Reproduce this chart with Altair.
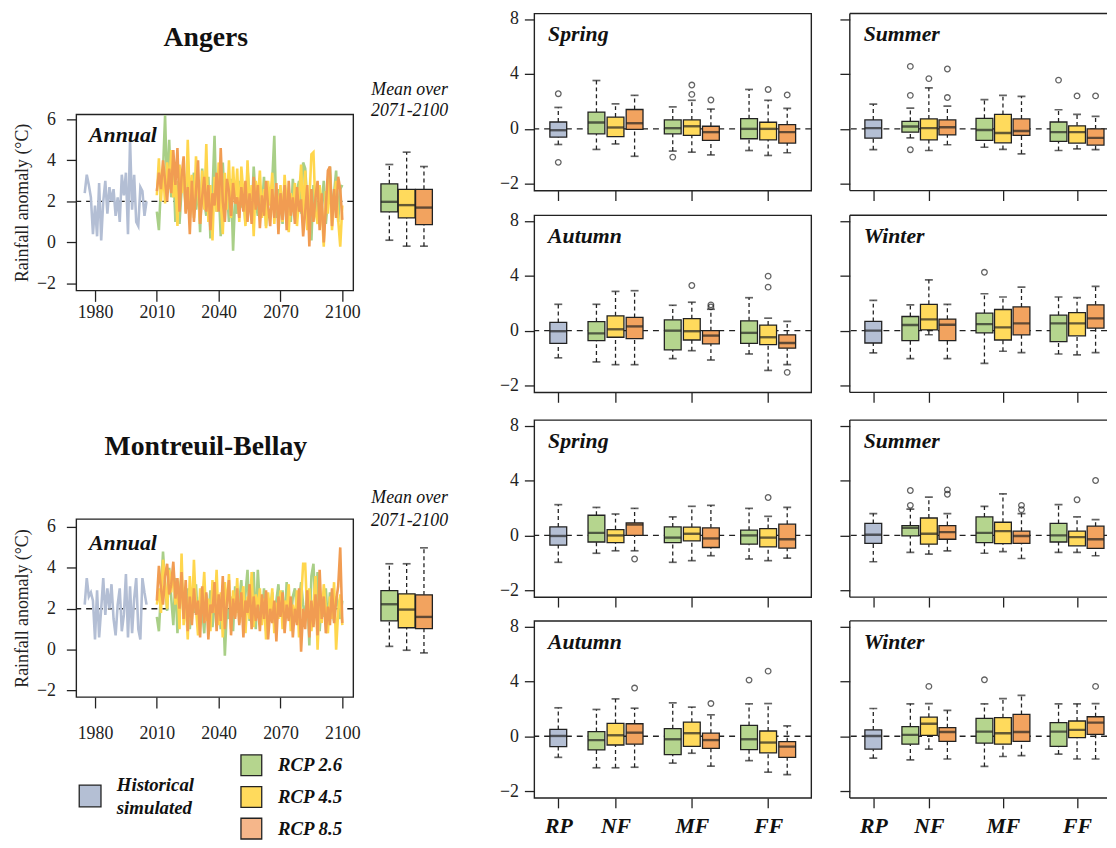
import altair as alt
import pandas as pd

FONT = "Liberation Serif"
INK = "#222222"

SCENARIOS = ["Historical simulated", "RCP 2.6", "RCP 4.5", "RCP 8.5"]
BOX_FILL = ["#B4BFD4", "#B5D58E", "#FFDA5C", "#F2A35F"]
LINE_COL = ["#B3BED4", "#A9CF87", "#FFD64D", "#F19C52"]
LEGEND_FILL = ["#B4BFD4", "#B5D58E", "#FFDA5C", "#F5B68A"]
PERIODS = ["RP", "NF", "MF", "FF"]
SEASONS = ["Spring", "Summer", "Autumn", "Winter"]
SITES = ["Angers", "Montreuil-Bellay"]
YEAR_TICKS = [1980, 2010, 2040, 2070, 2100]

HIST_YEARS = list(range(1975, 2006))
RCP_YEARS = list(range(2010, 2101))

# ---------------- annual series ----------------
ANG_HIST = [2.4, 3.3, 2.8, 2.2, 0.4, 1.8, 0.3, 2.9, 0.1, 2.0, 3.0, 1.4, 2.7, 2.0, 2.6, 1.3,
            2.2, 1.0, 3.3, 2.3, 3.4, 0.4, 5.0, 1.6, 3.3, 1.0, 0.8, 2.7, 2.5, 1.3, 2.0]
ANG_26 = [1.5, 0.6, 2.8, 3.5, 6.2, 2.5, 5.0, 2.2, 3.8, 1.0,
          3.0, 0.9, 2.6, 3.2, 1.8, 4.0, 1.2, 2.5, 3.4, 1.6,
          2.9, 0.5, 3.6, 2.0, 1.3, 3.2, 0.2, 2.4, 5.2, 1.5,
          2.7, 0.3, 3.9, 1.8, 2.6, 1.0, 3.1, -0.4, 2.2, 1.4,
          3.0, 1.7, 2.4, 0.9, 3.6, 2.2, 1.1, 3.7, 2.0, 1.3,
          2.8, 1.6, 3.2, 0.8, 2.5, 1.9, 3.0, 5.2, 1.2, 2.6,
          2.0, 0.9, 2.9, 1.5, 2.3, 1.0, 3.1, 1.8, 2.5, 3.0,
          1.4, 3.9, 3.6, 2.0, 1.6, 0.1, 2.8, 2.2, 1.2, 2.5,
          1.8, 3.0, 0.9, 2.1, 3.7, 1.5, 2.4, 3.5, 1.0, 2.6, 2.8]
ANG_45 = [2.3, 4.1, 2.0, 3.6, 1.9, 3.9, 2.6, 4.5, 2.2, 3.0,
          0.8, 3.8, 2.4, 3.5, 1.5, 5.0, 2.0, 3.3, 1.2, 4.2,
          2.6, 0.9, 3.5, 1.6, 4.8, 1.0, 2.8, 0.1, 3.2, 1.5,
          3.9, 2.0, 0.4, 3.4, 1.6, 4.0, 1.2, 3.7, 1.9, 3.6,
          1.0, 3.7, 2.4, 0.8, 4.0, 1.6, 2.8, 0.3, 3.0, 2.1,
          3.5, 1.2, 2.6, 0.7, 3.0, 1.8, 3.4, 0.9, 2.6, 1.4,
          2.8, 1.0, 3.3, 1.9, 0.5, 2.4, 1.5, 2.9, 0.8, 2.2,
          3.8, 1.2, 3.5, 0.6, 2.0, 4.3, 4.4, 1.5, 0.9, 2.8,
          1.7, -0.2, 2.5, 1.4, 3.3, 0.6, 2.0, 3.0, 1.1, -0.2, 1.8]
ANG_85 = [2.5, 3.4, 2.6, 4.0, 3.0, 2.0, 3.6, 2.4, 4.5, 2.8,
          4.6, 1.5, 3.2, 4.2, 1.4, 2.7, 0.4, 3.0, 1.0, 2.5,
          4.0, 0.9, 2.2, 3.2, 1.5, 2.8, 0.6, 2.4, 1.8, 3.4,
          1.5, 4.6, 2.0, 1.0, 3.1, 2.5, 1.3, 2.9, 1.9, 2.2,
          1.2, 2.7, 1.5, 3.0, 1.0, 2.4, 0.9, 3.2, 1.6, 2.8,
          0.7, 2.3, 1.3, 3.0, 1.8, 0.8, 2.6, 1.2, 2.9, 0.4,
          2.4, 1.1, 2.8, 0.6, 3.0, 1.3, 2.2, 0.9, 2.7, 1.5,
          2.1, 0.3, 1.5, 2.8, -0.2, 2.6, 1.0, 2.2, 3.0, 0.6,
          2.4, 0.0, 1.7, 3.5, 3.7, 0.8, 2.6, 1.2, 3.2, 2.6, 1.1]

MB_HIST = [2.2, 3.5, 2.6, 2.8, 2.4, 0.5, 2.9, 0.6, 2.0, 3.5, 1.7, 3.0, 2.0, 3.2, 1.5, 0.7,
           2.2, 3.0, 0.9, 1.7, 3.7, 0.6, 3.1, 0.8, 2.5, 3.5, 1.0, 0.5, 3.5, 2.8, 2.2]
MB_26 = [1.6, 0.9, 2.8, 4.8, 3.2, 1.9, 4.0, 2.5, 1.2, 3.5,
         0.8, 2.8, 3.6, 1.5, 2.2, 3.0, 1.0, 2.6, 1.8, 3.2,
         1.3, 2.6, 2.0, 0.8, 2.7, 1.5, 2.9, 1.1, 2.2, 1.6,
         2.4, 1.0, 3.0, -0.3, 2.0, 1.5, 2.6, 0.9, 3.1, 1.8,
         2.3, 3.4, 1.2, 2.7, 3.9, 1.4, 2.2, 3.8, 1.0, 3.9,
         2.1, 1.5, 3.0, 0.9, 2.5, 1.8, 2.8, 1.2, 2.4, 3.2,
         1.6, 2.9, 1.1, 3.3, 2.0, 1.4, 2.6, 3.0, 1.8, 2.4,
         3.3, 2.2, 1.5, 2.9, 0.2, 3.6, 4.2, 1.8, 3.8, 0.9,
         2.5, 1.6, 3.0, 1.2, 2.8, 2.0, 1.4, 2.6, 2.2, 1.5, 2.4]
MB_45 = [2.2, 3.0, 1.8, 4.4, 3.4, 2.0, 3.9, 2.8, 4.0, 2.2,
         3.2, 1.0, 4.7, 1.2, 2.6, 0.5, 3.6, 1.5, 4.4, 2.0,
         0.7, 3.0, 2.2, 3.8, 1.4, 2.5, 0.9, 3.4, 1.8, 3.9,
         1.2, 2.8, 0.6, 3.3, 2.0, 3.7, 1.0, 2.9, 1.6, 3.5,
         1.3, 2.4, 3.1, 0.8, 2.6, 1.5, 3.8, 1.1, 2.7, 2.0,
         3.0, 1.2, 2.5, 0.5, 2.8, 1.6, 3.0, 0.8, 2.3, 1.5,
         2.9, 1.0, 2.4, 1.8, 3.2, 0.9, 2.2, 1.4, 2.9, 0.6,
         2.4, 4.2, 4.2, 1.6, 3.0, 0.9, 2.2, 3.6, 0.0, 2.5,
         1.3, 3.2, 2.0, 0.8, 2.6, 1.5, 3.3, 0.0, 1.9, 2.7, 1.2]
MB_85 = [2.4, 4.1, 3.0, 2.2, 3.6, 4.2, 2.7, 3.2, 4.3, 2.5,
         3.5, 2.0, 3.8, 1.5, 3.4, 0.9, 2.6, 1.2, 3.0, 1.7,
         2.4, 0.6, 3.1, 1.3, 2.8, 0.5, 2.2, 1.8, 3.3, 0.9,
         2.7, 1.4, 3.6, 1.0, 2.3, 3.4, 0.7, 2.5, 1.5, 3.0,
         1.2, 2.8, 0.6, 2.4, 1.8, 3.2, 1.0, 2.6, 1.4, 2.2,
         0.9, 2.7, 1.5, 2.9, 0.5, 2.0, 1.3, 2.4, 0.4, 2.6,
         1.6, 2.8, 0.8, 2.2, 1.4, 2.6, 0.6, 2.0, 1.2, 3.0,
         -0.1, 2.0, 1.0, 2.9, 0.6, 2.4, 1.1, 2.7, 0.7, 3.9,
         1.5, 2.6, 0.8, 2.1, 1.2, 3.0, 1.3, 2.4, 3.1, 5.0, 1.3]

# ---------------- boxplots of 2071-2100 mean: (low, q1, median, q3, high) ----------------
ANG_MEAN = [(0.11, 1.49, 1.98, 2.86, 3.80), (-0.18, 1.20, 1.82, 2.59, 4.40), (-0.18, 0.87, 1.70, 2.59, 3.70)]
MB_MEAN = [(0.16, 1.41, 2.22, 2.89, 4.20), (-0.03, 1.07, 1.96, 2.73, 4.20), (-0.16, 1.03, 1.60, 2.68, 4.98)]

# ---------------- seasonal boxplots: RP, NF(2.6,4.5,8.5), MF(...), FF(...) ----------------
ANG_SPRING = [(-0.57, -0.30, -0.05, 0.50, 1.56), (-0.75, -0.18, 0.46, 1.22, 3.52), (-0.55, -0.28, 0.10, 0.86, 1.82),
              (-1.00, -0.02, 0.41, 1.41, 2.44), (-0.81, -0.18, 0.05, 0.65, 1.60), (-0.85, -0.24, 0.19, 0.65, 2.08),
              (-0.95, -0.42, -0.12, 0.19, 1.44), (-0.79, -0.36, 0.00, 0.74, 2.87), (-0.97, -0.40, 0.00, 0.48, 2.08),
              (-0.87, -0.52, -0.12, 0.31, 1.49)]
ANG_SPRING_OUT = [[2.56, -1.22], [], [], [], [-1.03], [3.19, 2.51], [2.10], [], [2.87], [2.47]]
ANG_SUMMER = [(-0.76, -0.34, 0.05, 0.65, 1.80), (-0.33, -0.12, 0.17, 0.55, 1.51), (-0.79, -0.40, 0.05, 0.72, 2.99),
              (-0.58, -0.22, 0.12, 0.65, 1.65), (-0.67, -0.42, -0.04, 0.77, 2.13), (-0.75, -0.51, -0.15, 1.05, 2.44),
              (-0.91, -0.24, -0.08, 0.72, 2.37), (-0.79, -0.46, -0.12, 0.50, 1.39), (-0.73, -0.52, -0.12, 0.22, 1.05),
              (-0.76, -0.59, -0.33, 0.00, 0.91)]
ANG_SUMMER_OUT = [[], [2.44, 4.55, -0.76], [3.66], [2.28, 4.36], [], [], [], [3.55], [2.40], [2.40]]
ANG_AUTUMN = [(-0.99, -0.46, -0.02, 0.60, 1.92), (-1.14, -0.36, -0.10, 0.65, 1.92), (-1.24, -0.24, 0.10, 1.08, 2.86),
              (-1.24, -0.29, 0.31, 0.96, 2.91), (-1.02, -0.70, 0.00, 0.79, 1.85), (-0.73, -0.34, -0.02, 0.87, 2.07),
              (-1.07, -0.48, -0.18, 0.00, 1.56), (-0.85, -0.46, -0.08, 0.72, 2.40), (-1.45, -0.51, -0.24, 0.41, 0.91),
              (-1.24, -0.64, -0.45, -0.15, 0.67)]
ANG_AUTUMN_OUT = [[], [], [], [], [], [3.29], [1.73, 1.88], [], [3.97, 3.17], [-1.52]]
ANG_WINTER = [(-0.81, -0.45, 0.00, 0.67, 2.21), (-1.02, -0.36, 0.41, 1.03, 1.88), (-0.15, 0.05, 0.82, 1.92, 3.70),
              (-1.02, -0.36, 0.43, 0.84, 1.92), (-1.19, -0.08, 0.48, 1.27, 2.69), (-0.75, -0.34, 0.24, 1.54, 2.45),
              (-0.80, -0.15, 0.53, 1.73, 3.17), (-0.85, -0.40, 0.53, 1.13, 2.45), (-0.88, -0.19, 0.53, 1.32, 2.40),
              (-0.80, 0.19, 0.89, 1.88, 3.22)]
ANG_WINTER_OUT = [[], [], [], [], [4.25], [], [], [], [], []]
MB_SPRING = [(-0.98, -0.35, -0.02, 0.62, 2.24), (-0.65, -0.24, 0.19, 1.47, 2.04), (-0.56, -0.26, 0.00, 0.43, 1.56),
             (-0.56, 0.00, 0.79, 0.91, 1.97), (-0.98, -0.26, -0.08, 0.62, 1.35), (-0.92, -0.20, 0.12, 0.60, 2.12),
             (-0.74, -0.44, -0.11, 0.55, 2.19), (-0.86, -0.32, 0.00, 0.38, 1.97), (-0.92, -0.42, -0.08, 0.50, 1.39),
             (-0.83, -0.46, -0.14, 0.82, 2.04)]
MB_SPRING_OUT = [[], [], [], [-0.86], [], [], [], [], [2.76], []]
MB_SUMMER = [(-0.96, -0.29, 0.05, 0.87, 1.59), (-0.62, -0.02, 0.55, 0.72, 1.92), (-0.68, -0.32, 0.12, 1.27, 2.79),
             (-0.56, -0.14, 0.24, 0.72, 1.59), (-0.65, -0.26, 0.19, 1.35, 2.12), (-0.59, -0.30, 0.31, 0.96, 3.03),
             (-0.84, -0.29, -0.02, 0.31, 1.59), (-0.62, -0.24, 0.00, 0.87, 2.24), (-0.62, -0.38, -0.06, 0.31, 1.35),
             (-0.74, -0.47, -0.14, 0.67, 1.15)]
MB_SUMMER_OUT = [[], [2.19, 3.27], [], [3.00, 3.32], [], [], [1.88, 2.19], [], [2.60], [4.00]]
MB_AUTUMN = [(-0.77, -0.38, 0.02, 0.50, 2.07), (-1.15, -0.50, -0.14, 0.34, 1.95), (-1.15, -0.32, 0.07, 0.94, 2.72),
             (-1.13, -0.29, 0.26, 0.91, 2.04), (-0.98, -0.67, -0.11, 0.55, 2.43), (-0.62, -0.37, 0.22, 1.03, 2.12),
             (-1.09, -0.44, -0.14, 0.22, 1.56), (-0.89, -0.49, -0.11, 0.79, 2.36), (-1.31, -0.61, -0.23, 0.38, 2.38),
             (-1.40, -0.77, -0.38, -0.20, 0.75)]
MB_AUTUMN_OUT = [[], [], [], [3.51], [], [], [2.38], [4.09], [4.74], []]
MB_WINTER = [(-0.80, -0.47, 0.02, 0.46, 2.02), (-0.86, -0.29, 0.10, 0.70, 2.36), (-0.47, 0.07, 0.91, 1.39, 2.38),
             (-0.83, -0.19, 0.31, 0.62, 1.88), (-1.10, -0.25, 0.34, 1.30, 2.36), (-0.74, -0.29, 0.22, 1.35, 2.74),
             (-0.71, -0.19, 0.31, 1.59, 2.98), (-0.65, -0.37, 0.34, 0.99, 2.36), (-0.83, -0.05, 0.46, 1.11, 2.36),
             (-0.83, 0.14, 0.99, 1.42, 2.38)]
MB_WINTER_OUT = [[], [], [3.63], [], [4.11], [], [], [], [], [3.63]]

# ---------------- helpers ----------------
BOX_KEYS = [(0, 0)] + [(p, s) for p in (1, 2, 3) for s in (1, 2, 3)]


def season_slot(p, s):
    return 1 if p == 0 else 3 + (p - 1) * 4 + (s - 1)


def mean_slot(p, s):
    return s


def stats_frame(stats, keys, slot):
    rows = []
    for (p, s), (lo, q1, md, q3, hi) in zip(keys, stats):
        rows.append({"pos": slot(p, s), "scen": SCENARIOS[s], "lo": lo, "q1": q1,
                     "med": md, "q3": q3, "hi": hi})
    return pd.DataFrame(rows)


def outlier_frame(outs, keys, slot):
    rows = [{"pos": slot(p, s), "v": v} for (p, s), lst in zip(keys, outs) for v in lst]
    return pd.DataFrame(rows, columns=["pos", "v"])


ONE = alt.Data(values=[{}])


def box_layers(df, odf, xscale, xaxis, yscale, yaxis, box_w, clip=False):
    def X():
        return alt.X("pos:Q", scale=xscale, axis=xaxis, title=None)

    def Y(f):
        return alt.Y(f, type="quantitative", scale=yscale, axis=yaxis, title=None)

    fill = alt.Fill("scen:N", scale=alt.Scale(domain=SCENARIOS, range=BOX_FILL), legend=None)
    base = alt.Chart(df)
    dash = dict(color=INK, strokeWidth=1.3, strokeDash=[4, 3], clip=clip)
    layers = [
        base.mark_rule(**dash).encode(x=X(), y=Y("q3"), y2="hi:Q"),
        base.mark_rule(**dash).encode(x=X(), y=Y("lo"), y2="q1:Q"),
        base.mark_bar(size=box_w, stroke=INK, strokeWidth=1.3, clip=clip).encode(
            x=X(), y=Y("q1"), y2="q3:Q", fill=fill),
        base.mark_tick(orient="horizontal", size=box_w, thickness=2.4, color=INK, clip=clip).encode(
            x=X(), y=Y("med")),
        base.mark_tick(orient="horizontal", size=8, thickness=1.7, color=INK, clip=clip).encode(x=X(), y=Y("hi")),
        base.mark_tick(orient="horizontal", size=8, thickness=1.7, color=INK, clip=clip).encode(x=X(), y=Y("lo")),
    ]
    if len(odf):
        layers.append(alt.Chart(odf).mark_point(shape="circle", filled=False, size=32, stroke=INK,
                                                strokeWidth=1.3, clip=clip).encode(x=X(), y=Y("v")))
    return layers


FRAME = alt.ViewBackground(stroke=INK, strokeWidth=1.4)
PANEL_H = 179
SEASON_Y = alt.Scale(domain=[-2.25, 0, 8.4], range=[PANEL_H, 116.6, 0])
label_expr = " : ".join(f"datum.value == {1 if i == 0 else 4 * i} ? '{p}'" for i, p in enumerate(PERIODS)) + " : ''"


def season_panel(stats, outs, name, left_col, xlabels):
    # the right column is cut by the page edge in the original figure
    width = 280 if left_col else 260
    xmax = 14 if left_col else 13.35
    xscale = alt.Scale(domain=[0, xmax], nice=False, zero=False)
    df = stats_frame(stats, BOX_KEYS, season_slot)
    odf = outlier_frame(outs, BOX_KEYS, season_slot)
    xaxis = alt.Axis(values=[1 if i == 0 else 4 * i for i in range(len(PERIODS))], labels=xlabels,
                     labelExpr=label_expr, labelFont=FONT, labelFontSize=22, labelFontWeight="bold",
                     labelFontStyle="italic", labelColor="#111", labelPadding=8, tickSize=10)
    yaxis = alt.Axis(values=[-2, 0, 4, 8], labels=left_col, labelPadding=6, tickSize=10)
    zero = alt.Chart(ONE).mark_rule(color=INK, strokeWidth=1.4, strokeDash=[6, 5]).encode(
        y=alt.YDatum(0, scale=SEASON_Y, axis=yaxis, title=None))
    label = alt.Chart(ONE).mark_text(text=name, align="left", baseline="middle", font=FONT, fontSize=22,
                                      fontWeight="bold", fontStyle="italic", color="#111").encode(
        x=alt.value(14), y=alt.value(21))
    layers = [zero] + box_layers(df, odf, xscale, xaxis, SEASON_Y, yaxis, 17, clip=not left_col) + [label]
    if left_col:
        return alt.layer(*layers).properties(width=width, height=PANEL_H, view=FRAME)
    edge = dict(color=INK, strokeWidth=1.4)
    layers += [alt.Chart(ONE).mark_rule(**edge).encode(y=alt.value(0)),
               alt.Chart(ONE).mark_rule(**edge).encode(y=alt.value(PANEL_H)),
               alt.Chart(ONE).mark_rule(**edge).encode(x=alt.value(0))]
    return alt.layer(*layers).properties(width=width, height=PANEL_H)


def annual_block(hist, r26, r45, r85, mean_stats, height, ydom, xlab_pad, annual_y, mean_y):
    ys = alt.Scale(domain=ydom, nice=False, zero=False)
    xs = alt.Scale(domain=[1970.9, 2105.3], nice=False, zero=False)
    xax = alt.Axis(values=YEAR_TICKS, format="d", labelPadding=xlab_pad, tickSize=11, labelFlush=False)
    yax = alt.Axis(values=[-2, 0, 2, 4, 6], labelPadding=11, titlePadding=5, tickSize=10,
                   titleFontWeight="normal")
    ytitle = "Rainfall anomaly (°C)"
    layers = [alt.Chart(ONE).mark_rule(color=INK, strokeWidth=1.4, strokeDash=[6, 5]).encode(
        y=alt.YDatum(2, scale=ys, axis=yax, title=ytitle))]
    for i, (yrs, vals) in enumerate([(HIST_YEARS, hist), (RCP_YEARS, r26), (RCP_YEARS, r45), (RCP_YEARS, r85)]):
        d = pd.DataFrame({"year": yrs, "v": vals})
        layers.append(alt.Chart(d).mark_line(color=LINE_COL[i], strokeWidth=2.6).encode(
            x=alt.X("year:Q", scale=xs, axis=xax, title=None),
            y=alt.Y("v:Q", scale=ys, axis=yax, title=ytitle)))
    layers.append(alt.Chart(ONE).mark_text(text="Annual", align="left", baseline="middle", font=FONT,
                                           fontSize=22, fontWeight="bold", fontStyle="italic",
                                           color="#111").encode(x=alt.value(13), y=alt.value(annual_y)))
    line = alt.layer(*layers).properties(width=280, height=height, view=FRAME)

    keys = [(3, 1), (3, 2), (3, 3)]
    df = stats_frame(mean_stats, keys, mean_slot)
    odf = outlier_frame([[], [], []], keys, mean_slot)
    bl = box_layers(df, odf, alt.Scale(domain=[0, 4], nice=False, zero=False), None, ys, None, 17)
    for txt, yy in zip(["Mean over", "2071-2100"], mean_y):
        bl.append(alt.Chart(ONE).mark_text(text=txt, font=FONT, fontSize=18, fontStyle="italic",
                                           color="#111", baseline="middle").encode(
            x=alt.value(43), y=alt.value(yy)))
    box = alt.layer(*bl).properties(width=80, height=height)
    return alt.hconcat(line, box, spacing=6)


def header(title, height, ty):
    return alt.Chart(ONE).mark_text(text=title, font=FONT, fontSize=28, fontWeight="bold",
                                    color="#111", baseline="middle").encode(
        x=alt.value(131), y=alt.value(ty)).properties(width=280, height=height)


# legend
rcp = pd.DataFrame({"label": SCENARIOS[1:], "col": LEGEND_FILL[1:]})
leg_y = alt.Y("label:N", sort=SCENARIOS[1:], axis=None, scale=alt.Scale(type="point", padding=0))
leg_sq = alt.Chart(rcp).mark_square(size=441, stroke=INK, strokeWidth=1.3, opacity=1).encode(
    x=alt.value(177), y=leg_y, fill=alt.Fill("col:N", scale=None))
leg_tx = alt.Chart(rcp).mark_text(align="left", baseline="middle", font=FONT, fontSize=19, fontWeight="bold",
                                  fontStyle="italic", color="#111").encode(
    x=alt.value(204), y=leg_y, text="label:N")
hist_sq = alt.Chart(ONE).mark_square(size=484, stroke=INK, strokeWidth=1.3, fill=LEGEND_FILL[0], opacity=1).encode(
    x=alt.value(14), y=alt.value(31))
hist_tx = alt.Chart(ONE).mark_text(text="Historical\nsimulated", lineBreak="\n", lineHeight=23, align="left",
                                   baseline="middle", font=FONT, fontSize=19, fontWeight="bold",
                                   fontStyle="italic", color="#111").encode(x=alt.value(41), y=alt.value(20))
legend = alt.layer(leg_sq, leg_tx, hist_sq, hist_tx).properties(width=280, height=64)

block1 = annual_block(ANG_HIST, ANG_26, ANG_45, ANG_85, ANG_MEAN, 178, [-2.34, 6.24], 2, 21, [-25, -3])
block2 = annual_block(MB_HIST, MB_26, MB_45, MB_85, MB_MEAN, 180, [-2.32, 6.39], 17, 24, [-21, 2])
leftcol = alt.vconcat(
    alt.vconcat(header(SITES[0], 58, 25), block1, header(SITES[1], 149, 116), block2, spacing=10),
    legend, spacing=8)

r1 = alt.hconcat(season_panel(ANG_SPRING, ANG_SPRING_OUT, SEASONS[0], True, False),
                 season_panel(ANG_SUMMER, ANG_SUMMER_OUT, SEASONS[1], False, False), spacing=26)
r2 = alt.hconcat(season_panel(ANG_AUTUMN, ANG_AUTUMN_OUT, SEASONS[2], True, False),
                 season_panel(ANG_WINTER, ANG_WINTER_OUT, SEASONS[3], False, False), spacing=26)
r3 = alt.hconcat(season_panel(MB_SPRING, MB_SPRING_OUT, SEASONS[0], True, False),
                 season_panel(MB_SUMMER, MB_SUMMER_OUT, SEASONS[1], False, False), spacing=26)
r4 = alt.hconcat(season_panel(MB_AUTUMN, MB_AUTUMN_OUT, SEASONS[2], True, True),
                 season_panel(MB_WINTER, MB_WINTER_OUT, SEASONS[3], False, True), spacing=26)
rightcol = alt.vconcat(alt.vconcat(r1, r2, spacing=8), alt.vconcat(r3, r4, spacing=7), spacing=11)

chart = alt.hconcat(leftcol, rightcol, spacing=51).properties(
    padding={"left": 5, "top": -4, "right": 0, "bottom": 0}
).configure_view(stroke=None).configure_axis(
    labelFont=FONT, titleFont=FONT, labelFontSize=18, titleFontSize=18, labelColor="#222", titleColor="#222",
    domain=False, grid=False, tickColor=INK, tickWidth=1.3, labelOverlap=False, labelBound=False
)

chart.save("out.html", embed_options={"renderer": "svg", "actions": False})
